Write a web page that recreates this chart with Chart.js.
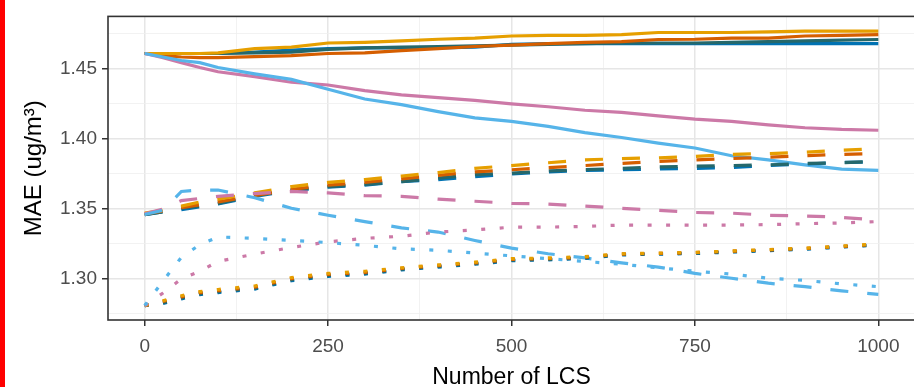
<!DOCTYPE html>
<html>
<head>
<meta charset="utf-8">
<script src="https://cdn.jsdelivr.net/npm/chart.js@4.4.1/dist/chart.umd.min.js"></script>
<style>
  html, body { margin: 0; padding: 0; background: #fff; overflow: hidden; }
  #wrap { position: relative; width: 914px; height: 387px; overflow: hidden; }
  #redbar { position: absolute; left: 0; top: 0; width: 5px; height: 387px; background: #ff0000; }
  canvas { position: absolute; left: 0; top: 0; }
</style>
</head>
<body>
<div id="wrap">
  <canvas id="maeChart" width="920" height="387"></canvas>
  <div id="redbar"></div>
</div>
<script>
// number of LCS
const xs = [0,25,50,75,100,150,200,250,300,350,400,450,500,550,600,650,700,750,800,850,900,950,1000];

// solid lines
const orangeSolid = [1.461,1.461,1.461,1.461,1.4615,1.4645,1.4655,1.4685,1.469,1.470,1.4712,1.472,1.4735,1.474,1.474,1.4745,1.476,1.476,1.476,1.4765,1.477,1.477,1.477];
const vermSolid   = [1.461,1.4595,1.4585,1.458,1.458,1.4588,1.4595,1.461,1.4615,1.463,1.4645,1.466,1.467,1.468,1.469,1.4695,1.471,1.4712,1.472,1.472,1.4735,1.474,1.4745];
const tealSolid   = [1.461,1.461,1.461,1.461,1.461,1.4615,1.462,1.464,1.465,1.4655,1.466,1.4665,1.467,1.4675,1.468,1.4685,1.4685,1.4685,1.469,1.4695,1.470,1.4705,1.471];
const blueSolid   = [1.461,1.461,1.461,1.461,1.461,1.462,1.4635,1.4645,1.465,1.465,1.465,1.4655,1.4675,1.468,1.468,1.468,1.468,1.468,1.468,1.468,1.468,1.468,1.468];
const pinkSolid   = [1.461,1.458,1.4545,1.451,1.448,1.4445,1.4405,1.4385,1.4345,1.4315,1.4295,1.4275,1.425,1.423,1.4205,1.419,1.4165,1.4142,1.4125,1.410,1.408,1.4068,1.4062];
const skySolid    = [1.461,1.4585,1.456,1.4545,1.451,1.4465,1.4425,1.4355,1.4285,1.4245,1.4195,1.415,1.4125,1.409,1.4045,1.401,1.397,1.3935,1.388,1.385,1.3815,1.3785,1.3776];

// dashed lines
const orangeDash = [1.347,1.349,1.352,1.355,1.357,1.3615,1.366,1.369,1.371,1.3735,1.376,1.379,1.381,1.383,1.385,1.386,1.3865,1.3875,1.389,1.3895,1.3905,1.392,1.393];
const vermDash   = [1.3465,1.3485,1.351,1.353,1.355,1.3595,1.364,1.367,1.369,1.3715,1.374,1.3765,1.378,1.3795,1.381,1.3825,1.384,1.385,1.386,1.387,1.388,1.389,1.3895];
const tealDash   = [1.346,1.348,1.3505,1.352,1.354,1.3595,1.3635,1.366,1.3675,1.3695,1.372,1.3745,1.3755,1.3772,1.378,1.379,1.380,1.3805,1.381,1.3815,1.3825,1.383,1.384];
const blueDash   = [1.346,1.348,1.3495,1.3515,1.3535,1.359,1.363,1.3655,1.367,1.3695,1.371,1.373,1.375,1.3765,1.3775,1.378,1.3785,1.379,1.3795,1.381,1.382,1.3832,1.3835];
const pinkDash   = [1.3465,1.350,1.356,1.3575,1.359,1.361,1.3625,1.3615,1.3595,1.359,1.357,1.3555,1.354,1.3535,1.352,1.3505,1.349,1.3475,1.347,1.3455,1.345,1.344,1.342];
const skyDash    = [1.346,1.349,1.3625,1.3635,1.3635,1.358,1.3505,1.3455,1.341,1.3365,1.3335,1.3275,1.322,1.318,1.315,1.3115,1.3085,1.304,1.3005,1.297,1.2945,1.2915,1.289];

// dotted lines
const orangeDot = [1.281,1.2845,1.288,1.291,1.2925,1.295,1.301,1.304,1.3055,1.308,1.310,1.312,1.3145,1.315,1.316,1.318,1.3185,1.319,1.320,1.321,1.322,1.3235,1.325];
const vermDot   = [1.281,1.284,1.2872,1.2902,1.2917,1.2942,1.3002,1.3032,1.3047,1.3075,1.3095,1.3115,1.314,1.3145,1.3155,1.3178,1.3182,1.3188,1.3198,1.3208,1.3218,1.3232,1.3248];
const tealDot   = [1.281,1.283,1.2865,1.2895,1.291,1.2935,1.2995,1.3025,1.304,1.307,1.309,1.311,1.3135,1.314,1.315,1.3175,1.318,1.3185,1.3195,1.3205,1.3215,1.323,1.3245];
const blueDot   = [1.281,1.2825,1.2858,1.2888,1.2903,1.2928,1.2988,1.3018,1.3035,1.3065,1.3085,1.3105,1.313,1.3137,1.3147,1.3172,1.3177,1.3182,1.3192,1.3202,1.3212,1.3228,1.3242];
const pinkDot   = [1.281,1.290,1.300,1.3055,1.3125,1.3178,1.3225,1.3265,1.329,1.3305,1.3335,1.335,1.337,1.337,1.3375,1.3385,1.3385,1.3385,1.3385,1.3388,1.3395,1.340,1.341];
const skyDot    = [1.281,1.2985,1.3155,1.3245,1.330,1.329,1.3275,1.326,1.324,1.3215,1.3205,1.3185,1.3165,1.3145,1.3125,1.3105,1.308,1.3055,1.3035,1.3005,1.299,1.2965,1.2945];

// tick labels
const xTicks = [0, 250, 500, 750, 1000];
const xMinor = [125, 375, 625, 875];
const yTicks = [1.30, 1.35, 1.40, 1.45];
const yMinor = [1.275, 1.325, 1.375, 1.425, 1.475];

const ORANGE = '#E69F00', VERM = '#D55E00', TEAL = '#25686b', BLUE = '#0072B2', PINK = '#CC79A7', SKY = '#56B4E9';
const DASHED = [18, 19], DOTTED = [4, 14.5];

function line(vals, color, dash) {
  return {
    data: xs.map((x, i) => ({ x: x, y: vals[i] })),
    borderColor: color,
    borderWidth: 3.2,
    borderDash: dash,
    borderCapStyle: 'butt',
    pointRadius: 0,
    tension: 0,
    fill: false
  };
}

// first dataset is drawn on top
const datasets = [
  line(skyDot, SKY, DOTTED), line(pinkDot, PINK, DOTTED), line(orangeDot, ORANGE, DOTTED),
  line(vermDot, VERM, DOTTED), line(tealDot, TEAL, DOTTED), line(blueDot, BLUE, DOTTED),
  line(skyDash, SKY, DASHED), line(pinkDash, PINK, DASHED), line(orangeDash, ORANGE, DASHED),
  line(vermDash, VERM, DASHED), line(tealDash, TEAL, DASHED), line(blueDash, BLUE, DASHED),
  line(skySolid, SKY, []), line(pinkSolid, PINK, []), line(orangeSolid, ORANGE, []),
  line(vermSolid, VERM, []), line(tealSolid, TEAL, []), line(blueSolid, BLUE, [])
];

const panelBorder = {
  id: 'panelBorder',
  afterDatasetsDraw(chart) {
    const a = chart.chartArea, ctx = chart.ctx;
    ctx.save();
    ctx.strokeStyle = '#333333';
    ctx.lineWidth = 1.6;
    ctx.strokeRect(a.left, a.top, a.right - a.left, a.bottom - a.top);
    ctx.restore();
  }
};

const isMajor = (arr, v) => arr.some(t => Math.abs(t - v) < 1e-9);

new Chart(document.getElementById('maeChart').getContext('2d'), {
  type: 'line',
  data: { datasets: datasets },
  plugins: [panelBorder],
  options: {
    responsive: false,
    animation: false,
    devicePixelRatio: 1,
    layout: { padding: { left: 0, right: 5, top: 10, bottom: 0 } },
    plugins: { legend: { display: false }, tooltip: { enabled: false } },
    scales: {
      x: {
        type: 'linear',
        min: -50,
        max: 1050,
        afterFit(s) { s.height = 67; },
        afterBuildTicks(s) { s.ticks = xTicks.concat(xMinor).sort((a, b) => a - b).map(v => ({ value: v })); },
        border: { display: false },
        grid: {
          color: c => isMajor(xTicks, c.tick.value) ? '#e6e6e6' : '#efefef',
          lineWidth: c => isMajor(xTicks, c.tick.value) ? 1.5 : 0.8,
          tickColor: c => isMajor(xTicks, c.tick.value) ? '#333333' : 'rgba(0,0,0,0)',
          tickLength: 6,
          tickWidth: 1.5
        },
        ticks: {
          autoSkip: false,
          maxRotation: 0,
          padding: 9,
          color: '#4d4d4d',
          font: { family: 'Liberation Sans, Arial, sans-serif', size: 19 },
          callback: v => isMajor(xTicks, v) ? String(v) : ''
        },
        title: {
          display: true,
          text: 'Number of LCS',
          color: '#000',
          padding: { top: 0, bottom: -4 },
          font: { family: 'Liberation Sans, Arial, sans-serif', size: 23 }
        }
      },
      y: {
        type: 'linear',
        min: 1.2707,
        max: 1.4875,
        afterFit(s) { s.width = 108; },
        afterBuildTicks(s) { s.ticks = yTicks.concat(yMinor).sort((a, b) => a - b).map(v => ({ value: v })); },
        border: { display: false },
        grid: {
          color: c => isMajor(yTicks, c.tick.value) ? '#e6e6e6' : '#efefef',
          lineWidth: c => isMajor(yTicks, c.tick.value) ? 1.5 : 0.8,
          tickColor: c => isMajor(yTicks, c.tick.value) ? '#333333' : 'rgba(0,0,0,0)',
          tickLength: 6,
          tickWidth: 1.5
        },
        ticks: {
          autoSkip: false,
          padding: 5,
          color: '#4d4d4d',
          font: { family: 'Liberation Sans, Arial, sans-serif', size: 19 },
          callback: v => isMajor(yTicks, v) ? v.toFixed(2) : ''
        },
        title: {
          display: true,
          text: 'MAE (ug/m³)',
          color: '#000',
          padding: { top: 20, bottom: 0 },
          font: { family: 'Liberation Sans, Arial, sans-serif', size: 24 }
        }
      }
    }
  }
});
</script>
</body>
</html>
